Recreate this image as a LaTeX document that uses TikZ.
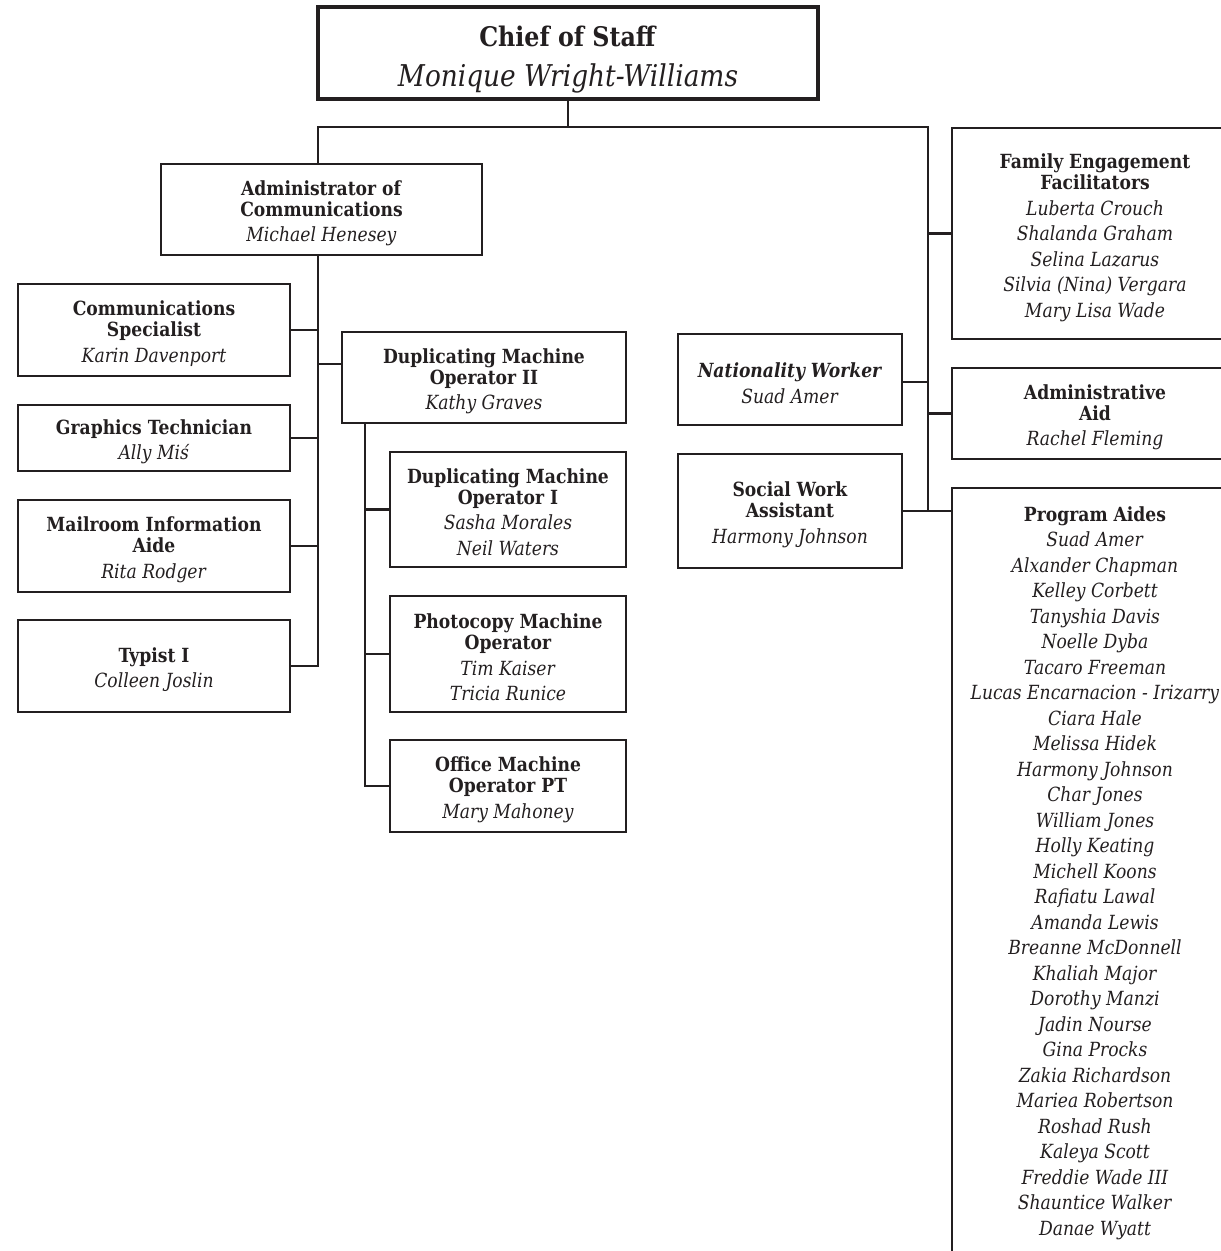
\documentclass[tikz,border=0pt]{standalone}
\usepackage{fontspec}
\setmainfont{DejaVu Serif}[FakeStretch=0.88]
\definecolor{ink}{RGB}{35,31,32}
\tikzset{
  box/.style={draw=ink, line width=2.7pt, inner sep=0pt, align=center, text=ink,
    font=\fontsize{19.5}{25.5}\selectfont},
  bigbox/.style={draw=ink, line width=4.5pt, inner sep=0pt, align=center, text=ink,
    font=\fontsize{30}{40}\selectfont},
  wire/.style={draw=ink, line width=2.3pt},
  txt/.style={inner sep=0pt, align=center, text=ink, font=\fontsize{19.5}{25.5}\selectfont},
}
\newcommand{\tl}{\\[-4.5pt]}
\newcommand{\st}{\rule{0pt}{22pt}}
\begin{document}
\begin{tikzpicture}[x=1pt,y=-1pt]
\useasboundingbox (0,0) rectangle (1221,1251);
\clip (0,0) rectangle (1221,1251);

% boxes
\node[bigbox, minimum width=500, minimum height=92] (chief) at (568,53)
  {\rule{0pt}{33pt}{\fontsize{27}{40}\selectfont\textbf{Chief of Staff}}\\\textit{Monique Wright-Williams}};
\node[box, minimum width=321, minimum height=91] (admin) at (321.5,209.5)
  {\st\textbf{Administrator of}\tl\textbf{Communications}\\\textit{Michael Henesey}};
\node[box, minimum width=272, minimum height=92] (comm) at (154,330)
  {\st\textbf{Communications}\tl\textbf{Specialist}\\\textit{Karin Davenport}};
\node[box, minimum width=272, minimum height=66] (graph) at (154,438)
  {\st\textbf{Graphics Technician}\\\textit{Ally Miś}};
\node[box, minimum width=272, minimum height=92] (mail) at (154,546)
  {\st\textbf{Mailroom Information}\tl\textbf{Aide}\\\textit{Rita Rodger}};
\node[box, minimum width=272, minimum height=92] (typist) at (154,666)
  {\st\textbf{Typist I}\\\textit{Colleen Joslin}};
\node[box, minimum width=284, minimum height=91] (dup2) at (484,377.5)
  {\st\textbf{Duplicating Machine}\tl\textbf{Operator II}\\\textit{Kathy Graves}};
\node[box, minimum width=236, minimum height=115] (dup1) at (508,509.5)
  {\rule{0pt}{20pt}\textbf{Duplicating Machine}\tl\textbf{Operator I}\\\textit{Sasha Morales}\\\textit{Neil Waters}};
\node[box, minimum width=236, minimum height=116] (photo) at (508,654)
  {\st\textbf{Photocopy Machine}\tl\textbf{Operator}\\\textit{Tim Kaiser}\\\textit{Tricia Runice}};
\node[box, minimum width=236, minimum height=92] (office) at (508,786)
  {\st\textbf{Office Machine}\tl\textbf{Operator PT}\\\textit{Mary Mahoney}};
\node[box, minimum width=224, minimum height=91] (nat) at (790,379.5)
  {\st\textbf{\textit{Nationality Worker}}\\\textit{Suad Amer}};
\node[box, minimum width=224, minimum height=114] (social) at (790,511)
  {\st\textbf{Social Work}\tl\textbf{Assistant}\\\textit{Harmony Johnson}};
\node[box, minimum width=286, minimum height=211] (family) at (1095,233.5)
  {\rule{0pt}{23pt}\textbf{Family Engagement}\tl\textbf{Facilitators}\\\textit{Luberta Crouch}\\\textit{Shalanda Graham}\\
   \textit{Selina Lazarus}\\\textit{Silvia (Nina) Vergara}\\\textit{Mary Lisa Wade}};
\node[box, minimum width=286, minimum height=91] (aid) at (1095,413.5)
  {\st\textbf{Administrative}\tl\textbf{Aid}\\\textit{Rachel Fleming}};
\node[draw=ink, line width=2.7pt, inner sep=0pt, minimum width=286, minimum height=812] (pa) at (1095,894) {};
\node[txt, anchor=north] (patext) at (1095,506)
  {\textbf{Program Aides}\\\textit{Suad Amer}\\\textit{Alxander Chapman}\\\textit{Kelley Corbett}\\
   \textit{Tanyshia Davis}\\\textit{Noelle Dyba}\\\textit{Tacaro Freeman}\\
   \textit{Lucas Encarnacion - Irizarry}\\\textit{Ciara Hale}\\\textit{Melissa Hidek}\\
   \textit{Harmony Johnson}\\\textit{Char Jones}\\\textit{William Jones}\\\textit{Holly Keating}\\
   \textit{Michell Koons}\\\textit{Rafiatu Lawal}\\\textit{Amanda Lewis}\\\textit{Breanne McDonnell}\\
   \textit{Khaliah Major}\\\textit{Dorothy Manzi}\\\textit{Jadin Nourse}\\\textit{Gina Procks}\\
   \textit{Zakia Richardson}\\\textit{Mariea Robertson}\\\textit{Roshad Rush}\\\textit{Kaleya Scott}\\
   \textit{Freddie Wade III}\\\textit{Shauntice Walker}\\\textit{Danae Wyatt}};

% junction coordinates
\coordinate (jl) at (318,127);
\coordinate (jr) at (928,127);
\coordinate (st) at (365,424);

% connectors
\draw[wire] (chief.south) -- (chief.south |- jl);
\draw[wire] (admin.north -| jl) -- (jl) -- (jr) -- (jr |- social.east);
\draw[wire] (admin.south -| jl) -- (jl |- typist.east) -- (typist.east);
\draw[wire] (comm.east) -- (comm.east -| jl);
\draw[wire] (graph.east) -- (graph.east -| jl);
\draw[wire] (mail.east) -- (mail.east -| jl);
\draw[wire] (jl |- 0,364) -- (dup2.west |- 0,364);
\draw[wire] (dup2.south -| st) -- (st |- office.west) -- (office.west);
\draw[wire] (dup1.west) -- (dup1.west -| st);
\draw[wire] (photo.west) -- (photo.west -| st);
\draw[wire] (family.west) -- (family.west -| jr);
\draw[wire] (aid.west) -- (aid.west -| jr);
\draw[wire] (nat.east |- 0,382) -- (jr |- 0,382);
\draw[wire] (social.east) -- (pa.west |- social.east);
\end{tikzpicture}
\end{document}
